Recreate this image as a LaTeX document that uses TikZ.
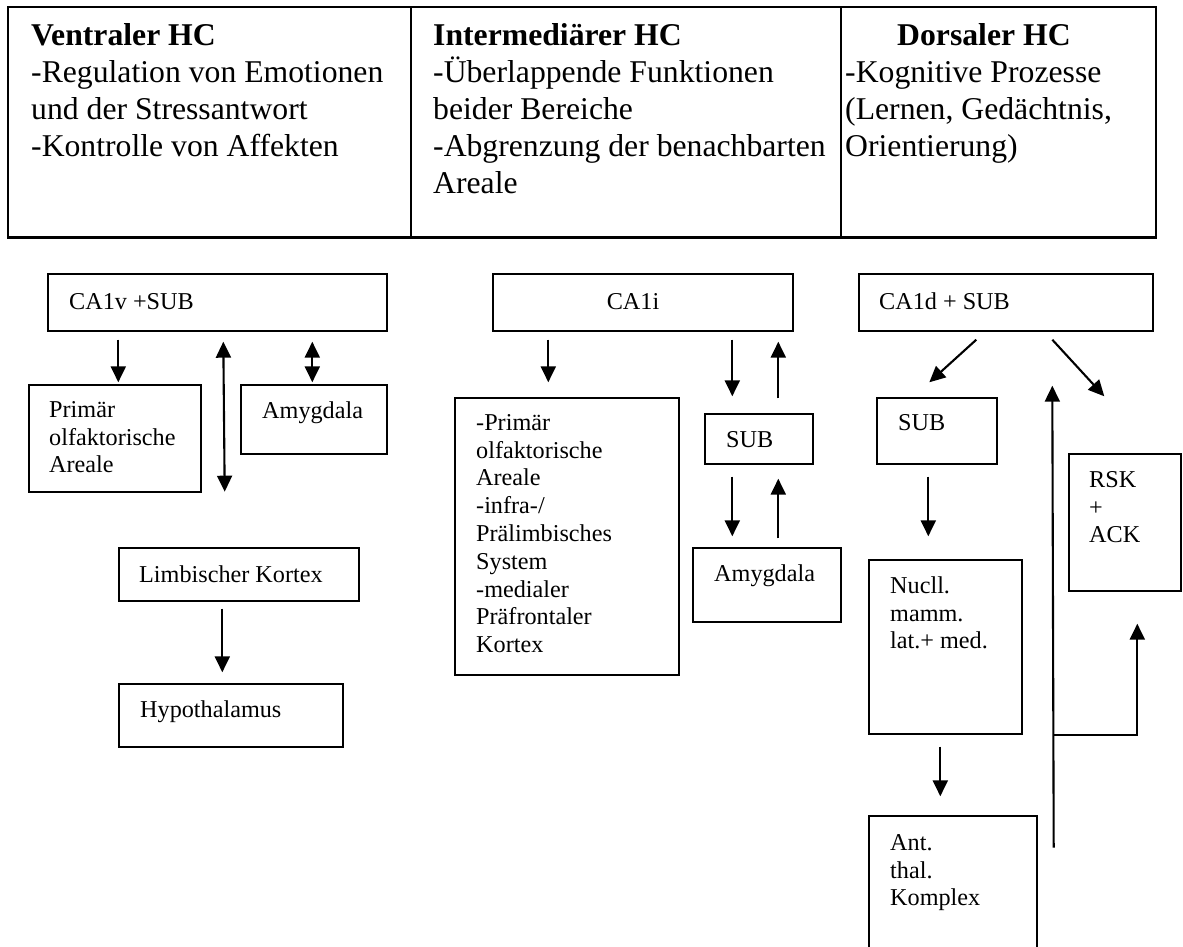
\documentclass[tikz,border=0pt]{standalone}
\usepackage{fontspec}
\setmainfont{Liberation Serif}
\usetikzlibrary{arrows.meta,calc}
\newcommand\topstrut{\rule{0pt}{1em}}
\begin{document}
\begin{tikzpicture}[x=1pt,y=-1pt,
  box/.style={draw, line width=1.4pt, inner sep=0pt},
  cell/.style={draw, line width=1.8pt, inner sep=0pt},
  arr/.style={line width=2.1pt, -{Triangle[length=16pt,width=15pt]}},
  darr/.style={line width=2.1pt, {Triangle[length=16pt,width=15pt]}-{Triangle[length=16pt,width=15pt]}},
  txt/.style={font=\fontsize{24.2}{27.8}\selectfont, align=left, anchor=north west, inner sep=0pt, yshift=24.2pt},
  htxt/.style={font=\fontsize{31.7}{37}\selectfont, align=left, anchor=north west, inner sep=0pt, yshift=31.7pt}]
\useasboundingbox (0,0) rectangle (1183,947);
\fill[white] (0,0) rectangle (1183,947);

% ---------- table ----------
\node[cell, minimum width=403pt, minimum height=230pt] (c1) at (209.5,122) {};
\node[cell, minimum width=430pt, minimum height=230pt] (c2) at (626,122) {};
\node[cell, minimum width=315pt, minimum height=230pt] (c3) at (998.5,122) {};
\draw[line width=3pt] (c1.south west) -- (c3.south east);

\node[htxt] (h1) at (31,45) {\topstrut\textbf{Ventraler HC}\\-Regulation von Emotionen\\und der Stressantwort\\-Kontrolle von Affekten};
\node[htxt] (h2) at (433,45) {\topstrut\textbf{Intermediärer HC}\\-Überlappende Funktionen\\beider Bereiche\\-Abgrenzung der benachbarten\\Areale};
\node[htxt] (h3a) at (897,45) {\topstrut\textbf{Dorsaler HC}};
\node[htxt] (h3) at (845,82) {\topstrut-Kognitive Prozesse\\(Lernen, Gedächtnis,\\Orientierung)};

% ---------- boxes ----------
\node[box, minimum width=339pt, minimum height=57pt] (ca1v) at (217.5,302.5) {};
\node[box, minimum width=172pt, minimum height=107pt] (prim) at (115,438.5) {};
\node[box, minimum width=146pt, minimum height=69pt] (amyL) at (314,419.5) {};
\node[box, minimum width=240pt, minimum height=53pt] (limb) at (239,574.5) {};
\node[box, minimum width=224pt, minimum height=63pt] (hypo) at (231,715.5) {};

\node[box, minimum width=300pt, minimum height=57pt] (ca1i) at (643,302.5) {};
\node[box, minimum width=224pt, minimum height=277pt] (big) at (567,536.5) {};
\node[box, minimum width=108pt, minimum height=50pt] (subM) at (759,439) {};
\node[box, minimum width=148pt, minimum height=74pt] (amyM) at (767,585) {};

\node[box, minimum width=294pt, minimum height=57pt] (ca1d) at (1006,302.5) {};
\node[box, minimum width=120pt, minimum height=66pt] (subR) at (937,431) {};
\node[box, minimum width=112pt, minimum height=137pt] (rsk) at (1125,522.5) {};
\node[box, minimum width=153pt, minimum height=174pt] (nucl) at (945.5,647) {};
\node[box, minimum width=168pt, minimum height=150pt] (ant) at (953,891) {};

% ---------- box texts ----------
\node[txt] (t1) at (69,309) {\topstrut CA1v +SUB};
\node[txt] (t2) at (49,417) {\topstrut Primär\\olfaktorische\\Areale};
\node[txt] (t3) at (262,418) {\topstrut Amygdala};
\node[txt] (t4) at (139,582) {\topstrut Limbischer Kortex};
\node[txt] (t5) at (140,717) {\topstrut Hypothalamus};
\node[txt, anchor=north] (t6) at (633,309) {\topstrut CA1i};
\node[txt] (t7) at (476,430) {\topstrut -Primär\\olfaktorische\\Areale\\-infra-/\\Prälimbisches\\System\\-medialer\\Präfrontaler\\Kortex};
\node[txt] (t8) at (726,447) {\topstrut SUB};
\node[txt] (t9) at (714,581) {\topstrut Amygdala};
\node[txt] (t10) at (879,309) {\topstrut CA1d + SUB};
\node[txt] (t11) at (898,430) {\topstrut SUB};
\node[txt] (t12) at (1089,487) {\topstrut RSK\\+\\ACK};
\node[txt] (t13) at (890,593) {\topstrut Nucll.\\mamm.\\lat.+ med.};
\node[txt] (t14) at (890,850) {\topstrut Ant.\\thal.\\Komplex};

% ---------- connectors ----------
\draw[arr] ($(ca1v.south west)+(71,8)$) -- ($(prim.north west)+(90,-2)$);
\draw[darr] ($(ca1v.south west)+(176,10)$) -- ($(prim.south east)+(23,-1)$);
\draw[darr] ($(ca1v.south west)+(265,10)$) -- ($(amyL.north west)+(72,-2)$);
\draw[arr] ($(limb.south west)+(104,7)$) -- ($(hypo.north west)+(104,-11)$);

\draw[arr] ($(ca1i.south west)+(56,8)$) -- ($(big.north west)+(94,-15)$);
\draw[arr] ($(ca1i.south west)+(240,8)$) -- ($(subM.north west)+(28,-17)$);
\draw[arr] ($(subM.north west)+(74,-15)$) -- ($(ca1i.south west)+(286,10)$);
\draw[arr] ($(subM.south west)+(28,12)$) -- ($(amyM.north west)+(40,-11)$);
\draw[arr] ($(amyM.north west)+(86,-9)$) -- ($(subM.south west)+(74,14)$);

\draw[arr] ($(ca1d.south west)+(118,8)$) -- ($(subR.north west)+(53,-15)$);
\draw[arr] ($(ca1d.south west)+(194,8)$) -- ($(rsk.north west)+(36,-57)$);
\draw[arr] ($(subR.south west)+(52,12)$) -- ($(nucl.north west)+(60,-23)$);
\draw[arr] ($(nucl.south west)+(72,12)$) -- ($(ant.north west)+(72,-19)$);

\coordinate (upfoot) at ($(nucl.south east)+(31,113)$);
\coordinate (upjoin) at ($(nucl.south east)+(31,0)$);
\draw[arr] (upfoot) -- ($(ca1d.south west)+(194,54)$);
\draw[arr] (upjoin) -| ($(rsk.south west)+(69,32)$);
\end{tikzpicture}
\end{document}
